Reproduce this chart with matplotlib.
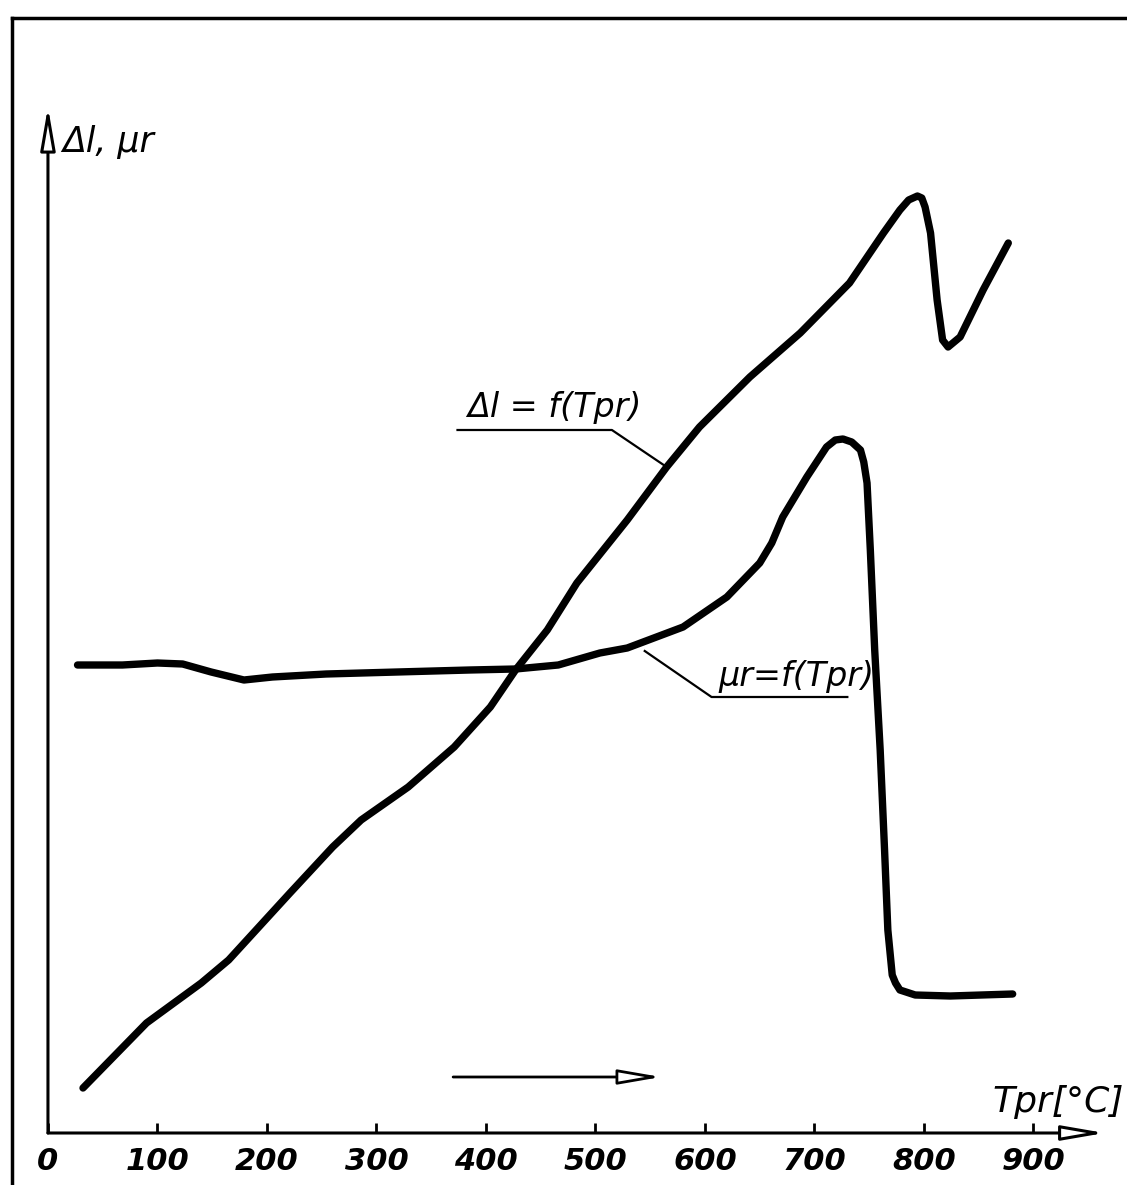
import matplotlib.pyplot as plt
from matplotlib.lines import Line2D

# temperature Tpr [°C] and relative values (arbitrary units)
dl_temp = [32, 90, 140, 165, 221, 260, 286, 329, 371, 404, 427, 456, 483, 529,
           565, 595, 641, 687, 732, 763, 778, 786, 794, 798, 801, 806, 812,
           817, 822, 833, 854, 877]
dl_vals = [4.5, 11.0, 15.0, 17.3, 24.0, 28.6, 31.3, 34.6, 38.6, 42.6, 46.3,
           50.3, 55.0, 61.3, 66.6, 70.6, 75.6, 80.0, 85.0, 90.0, 92.3, 93.3,
           93.7, 93.5, 92.6, 90.0, 83.3, 79.3, 78.6, 79.6, 84.3, 89.0]

mu_temp = [27, 68, 100, 123, 149, 179, 205, 254, 319, 385, 427, 466, 504, 529,
           580, 620, 650, 661, 671, 693, 711, 719, 726, 734, 742, 745, 748,
           751, 755, 760, 764, 767, 771, 774, 778, 792, 824, 881]
mu_vals = [46.8, 46.8, 47.0, 46.9, 46.1, 45.3, 45.6, 45.9, 46.1, 46.3, 46.4,
           46.8, 48.0, 48.5, 50.6, 53.6, 57.0, 59.0, 61.6, 65.6, 68.6, 69.3,
           69.4, 69.1, 68.3, 67.1, 65.0, 58.3, 48.3, 38.3, 28.3, 20.3, 15.8,
           15.0, 14.3, 13.8, 13.7, 13.9]

x_ticks = [0, 100, 200, 300, 400, 500, 600, 700, 800, 900]

hand = ['Liberation Sans Narrow', 'DejaVu Sans']

fig = plt.figure(figsize=(11.27, 11.85), dpi=100)
ax = fig.add_axes([0, 0, 1, 1])
ax.set_xlim(-43.8, 985.4)
ax.set_ylim(-5.2, 113.3)
for s in ax.spines.values():
    s.set_visible(False)
ax.spines['bottom'].set_position(('data', 0))

# curves
ax.plot(dl_temp, dl_vals, color='black', lw=5.3, solid_joinstyle='round',
        solid_capstyle='round')
ax.plot(mu_temp, mu_vals, color='black', lw=5.3, solid_joinstyle='round',
        solid_capstyle='round')

# axes with open arrow heads
arrow = dict(arrowstyle='-|>,head_length=2.6,head_width=0.45', fc='white',
             ec='black', lw=2.2, mutation_scale=10, shrinkA=0, shrinkB=0)
ax.annotate('', xy=(0, 102.6), xytext=(0, 0), arrowprops=arrow)
ax.annotate('', xy=(965, 0), xytext=(0, 0), arrowprops=arrow)
ax.annotate('', xy=(560, 5.6), xytext=(370, 5.6),
            arrowprops=dict(arrow, lw=2.0))

ax.set_xticks(x_ticks)
ax.set_xticklabels([str(t) for t in x_ticks], family=hand, fontsize=22,
                   fontweight='bold', fontstyle='italic')
ax.tick_params(axis='x', direction='in', length=7, width=2, pad=10)
ax.set_yticks([])

# labels
ax.text(13, 99.1, 'Δl, μr', family=hand, fontsize=25, fontstyle='italic',
        va='center', ha='left')
ax.text(983, 1.4, 'Tpr[°C]', family=hand, fontsize=26,
        fontstyle='italic', va='bottom', ha='right')

ax.text(383, 70.9, 'Δl = f(Tpr)', family=hand, fontsize=24,
        fontstyle='italic', va='bottom', ha='left')
ax.plot([374, 515, 565], [70.3, 70.3, 66.6], color='black', lw=1.6)

ax.text(612, 44.0, 'μr=f(Tpr)', family=hand, fontsize=24,
        fontstyle='italic', va='bottom', ha='left')
ax.plot([545, 606, 730], [48.2, 43.6, 43.6], color='black', lw=1.6)

# outer frame of the sheet
fig.add_artist(Line2D([12 / 1127, 1], [1 - 18 / 1185, 1 - 18 / 1185],
                      color='black', lw=2.5))
fig.add_artist(Line2D([12 / 1127, 12 / 1127], [0, 1 - 18 / 1185],
                      color='black', lw=2.5))

fig.savefig('out.png', dpi=100)
